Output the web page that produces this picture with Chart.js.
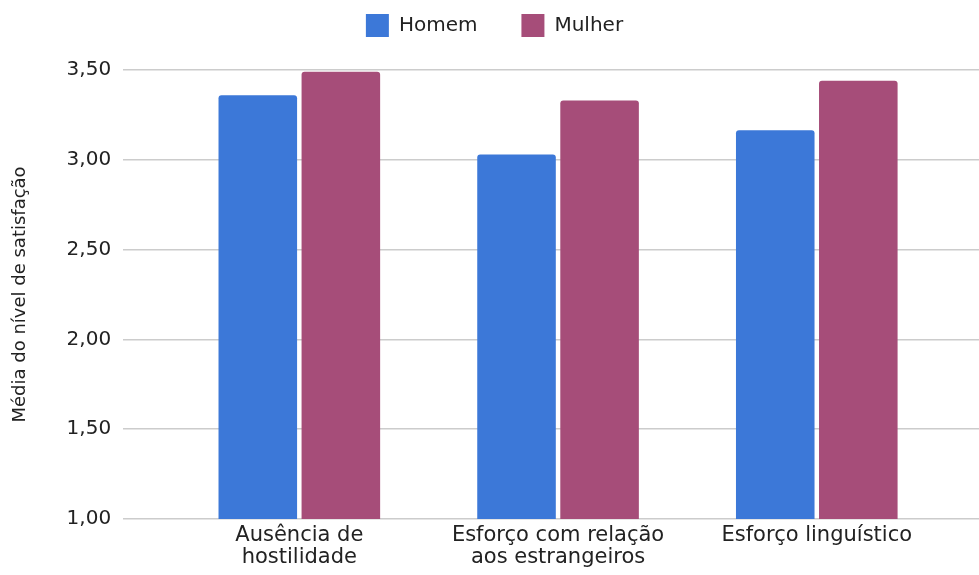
<!DOCTYPE html>
<html lang="pt">
<head>
<meta charset="utf-8">
<script src="https://cdn.jsdelivr.net/npm/chart.js@4"></script>
<style>
    html, body { margin: 0; padding: 0; background: #fff; }
    #grafico { width: 979px; height: 575px; }
</style>
</head>
<body>
<div id="grafico"><canvas id="canvas"></canvas></div>
<script>
// Datos del gráfico
const categorias = [
    ['Ausência de', 'hostilidade'],
    ['Esforço com relação', 'aos estrangeiros'],
    ['Esforço linguístico']
];
const homem = [3.36, 3.03, 3.165];
const mulher = [3.49, 3.33, 3.44];
const ticksY = [1.0, 1.5, 2.0, 2.5, 3.0, 3.5];

const fuente = 'DejaVu Sans';

// Los puntos se ubican en la posición de cada categoría (0, 1, 2)
const aPuntos = valores => valores.map((v, i) => ({ x: i, y: v }));

// Altura fija de la leyenda para dejar espacio sobre el área del gráfico
const alturaLeyenda = {
    id: 'alturaLeyenda',
    beforeInit(chart) {
        const fitOriginal = chart.legend.fit;
        chart.legend.fit = function () {
            fitOriginal.bind(this)();
            this.height = 100;
        };
    }
};

new Chart(document.getElementById('canvas'), {
    type: 'bar',
    data: {
        datasets: [
            {
                label: 'Homem',
                data: aPuntos(homem),
                backgroundColor: '#3c78d8',
                borderRadius: 3,
                borderSkipped: 'bottom'
            },
            {
                label: 'Mulher',
                data: aPuntos(mulher),
                backgroundColor: '#a64d79',
                borderRadius: 3,
                borderSkipped: 'bottom'
            }
        ]
    },
    options: {
        responsive: true,
        maintainAspectRatio: false,
        animation: false,
        categoryPercentage: 0.642,
        barPercentage: 0.946,
        layout: { padding: { left: 10, right: 0, top: -30, bottom: 0 } },
        plugins: {
            tooltip: { enabled: false },
            legend: {
                position: 'top',
                labels: {
                    boxWidth: 23,
                    boxHeight: 23,
                    padding: 44,
                    color: '#222',
                    font: { family: fuente, size: 20 }
                }
            }
        },
        scales: {
            x: {
                type: 'linear',
                offset: false,
                min: -0.681,
                max: 2.627,
                afterBuildTicks: scale => {
                    scale.ticks = categorias.map((_, i) => ({ value: i }));
                },
                grid: { display: false, drawTicks: false },
                border: { display: false },
                ticks: {
                    autoSkip: false,
                    maxRotation: 0,
                    padding: 6,
                    color: '#222',
                    font: { family: fuente, size: 21, lineHeight: 1.05 },
                    callback: v => categorias[v] || ''
                }
            },
            y: {
                min: 1,
                max: 3.5,
                afterBuildTicks: scale => {
                    scale.ticks = ticksY.map(v => ({ value: v }));
                },
                grid: { color: '#cccccc', lineWidth: 1.5, drawTicks: false },
                border: { display: false },
                ticks: {
                    padding: 12,
                    color: '#222',
                    font: { family: fuente, size: 20 },
                    callback: v => v.toFixed(2).replace('.', ',')
                },
                title: {
                    display: true,
                    text: 'Média do nível de satisfação',
                    color: '#222',
                    font: { family: fuente, size: 18 },
                    padding: { top: 0, bottom: 23 }
                }
            }
        }
    },
    plugins: [alturaLeyenda]
});
</script>
</body>
</html>
